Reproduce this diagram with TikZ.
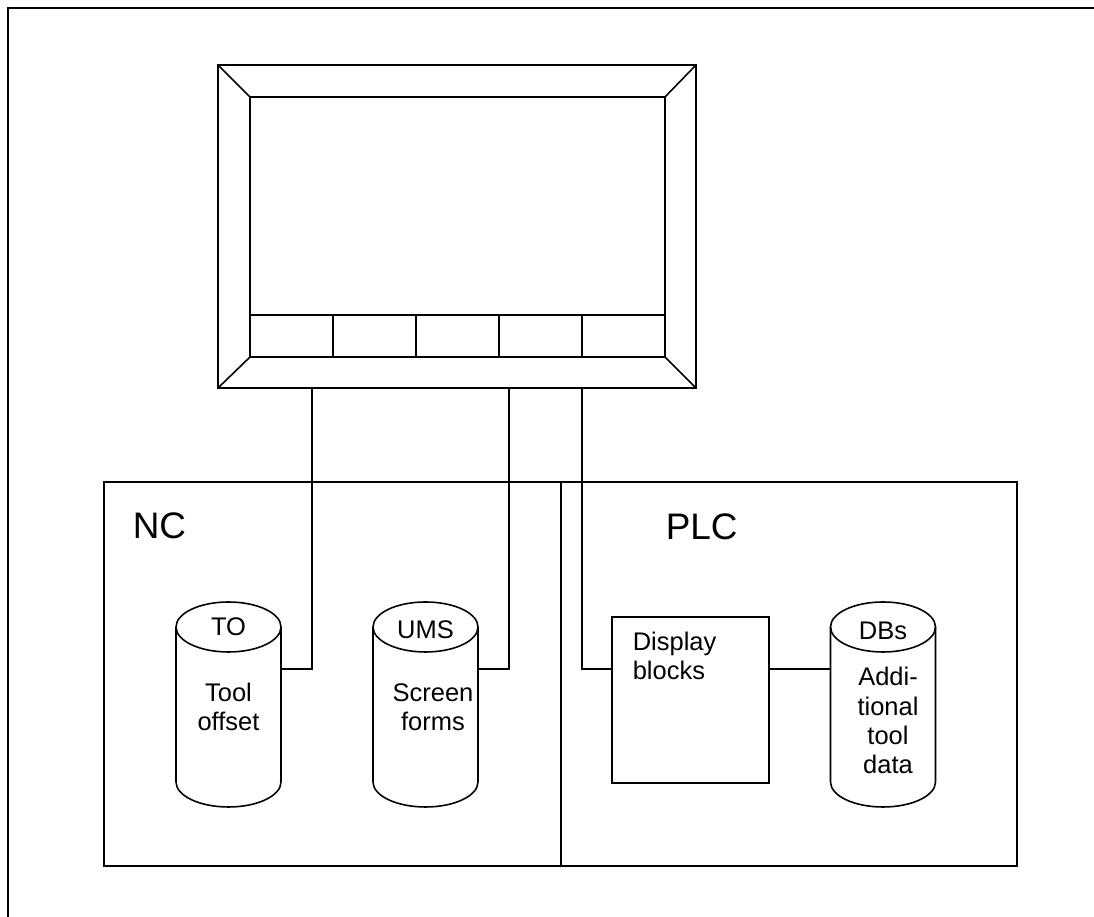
\documentclass[tikz,border=0pt]{standalone}
\usepackage{fontspec}
\setmainfont{Liberation Sans}
\usetikzlibrary{positioning, calc}
\tikzset{
  unit/.style  = {draw, line width=0.9pt, inner sep=0pt, outer sep=0pt},
  key/.style   = {draw, line width=0.9pt, minimum width=1.66cm, minimum height=0.84cm,
                  inner sep=0pt, outer sep=0pt},
  area/.style  = {draw, line width=0.9pt, minimum height=7.68cm, inner sep=0pt, outer sep=0pt},
  dbase/.style = {minimum width=2.1cm, minimum height=3.1cm, inner sep=0pt, outer sep=0pt},
  txt/.style   = {font=\fontsize{14.5}{16.6}\selectfont, align=center, inner sep=0pt},
  big/.style   = {font=\fontsize{21}{24}\selectfont, inner sep=0pt},
  link/.style  = {draw, line width=0.9pt}
}
\begin{document}
\begin{tikzpicture}[line width=0.9pt]
\useasboundingbox (0,0) rectangle (21.88,18.34);
\draw[line width=1.2pt] (21.88,18.18) -- (0.16,18.18) -- (0.16,0);
% operator panel
\node[unit, minimum width=9.56cm, minimum height=6.46cm] (monitor) at (9.14,13.81) {};
\node[unit, minimum width=8.3cm, minimum height=5.2cm] (screen) at (9.15,13.80) {};
\draw (monitor.north west) -- (screen.north west);
\draw (monitor.north east) -- (screen.north east);
\draw (monitor.south west) -- (screen.south west);
\draw (monitor.south east) -- (screen.south east);
\node[key, anchor=south west] (key1) at (screen.south west) {};
\node[key, right=0pt of key1] (key2) {};
\node[key, right=0pt of key2] (key3) {};
\node[key, right=0pt of key3] (key4) {};
\node[key, right=0pt of key4] (key5) {};
% NC and PLC
\node[area, minimum width=9.14cm] (ncbox) at (6.65,4.86) {};
\node[area, minimum width=9.12cm] (plcbox) at (15.78,4.86) {};
\node[big, anchor=base west] (nclbl) at (2.64,7.56) {NC};
\node[big, anchor=base west] (plclbl) at (13.30,7.55) {PLC};
\node[dbase] (tocyl) at (4.57,4.25) {};
\node[dbase] (umscyl) at (8.51,4.25) {};
\node[dbase] (dbcyl) at (17.66,4.25) {};
\foreach \c in {tocyl,umscyl,dbcyl} {
  \draw (\c.north west) -- (\c.south west)
    arc[start angle=180, end angle=360, x radius=1.05cm, y radius=0.5cm] -- (\c.north east);
  \draw (\c.north) ellipse [x radius=1.05cm, y radius=0.5cm];
}
\node[txt] (tolbl) at (tocyl.north) {TO};
\node[txt] (umslbl) at ([yshift=-0.6mm]umscyl.north) {UMS};
\node[txt] (dblbl) at ([yshift=-0.8mm]dbcyl.north) {DBs};
\node[txt] (totxt) at (4.57,4.20) {Tool\\offset};
\node[txt] (umstxt) at (8.66,4.20) {Screen\\forms};
\node[txt] (dbtxt) at (17.76,3.93) {Addi-\\tional\\tool\\data};
\node[unit, minimum width=3.14cm, minimum height=3.32cm] (disp) at (13.81,4.34) {};
\node[txt, align=left, anchor=north west] (disptxt) at ([xshift=4mm, yshift=-2.8mm]disp.north west) {Display\\blocks};
% connections
\draw[link] ([yshift=7.1mm]tocyl.east) -| ([xshift=-29mm]monitor.south);
\draw[link] ([yshift=7.1mm]umscyl.east) -| ([xshift=10.4mm]monitor.south);
\draw[link] ([yshift=6.2mm]disp.west) -| ([xshift=25mm]monitor.south);
\draw[link] ([yshift=6.2mm]disp.east) -- ([yshift=7.1mm]dbcyl.west);
\end{tikzpicture}
\end{document}
